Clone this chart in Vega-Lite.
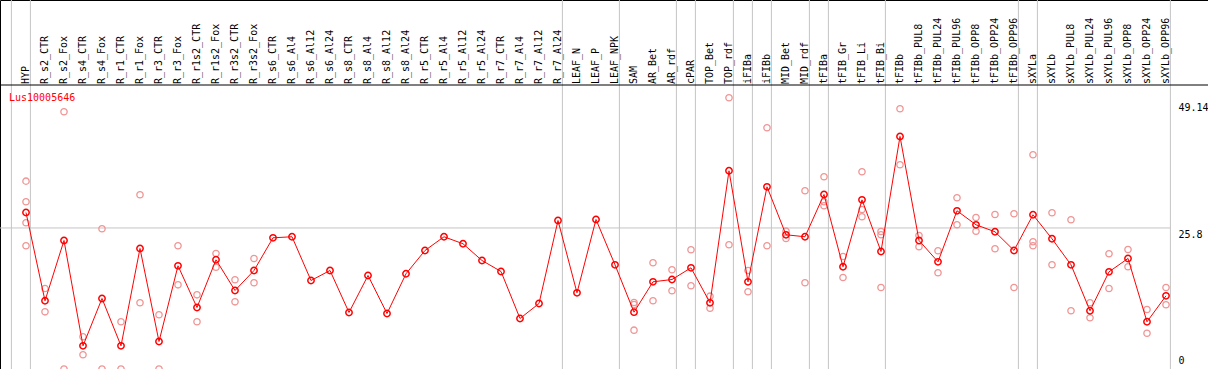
{
  "$schema": "https://vega.github.io/schema/vega-lite/v6.json",
  "width": 1208,
  "height": 369,
  "autosize": "none",
  "padding": 0,
  "background": "white",
  "config": {"view": {"stroke": "#000000", "strokeWidth": 1}},
  "title": {"text": "Lus10005646", "anchor": "start", "frame": "group", "orient": "top", "offset": 0, "color": "#ff0000", "font": "DejaVu Sans Mono", "fontSize": 10, "fontWeight": "normal", "baseline": "middle", "dx": 9, "dy": 108},
  "datasets": {
    "means": [
      {"i": 0, "name": "HYP", "v": 28.63},
      {"i": 1, "name": "R_s2_CTR", "v": 12.48},
      {"i": 2, "name": "R_s2_Fox", "v": 23.51},
      {"i": 3, "name": "R_s4_CTR", "v": 4.24},
      {"i": 4, "name": "R_s4_Fox", "v": 12.90},
      {"i": 5, "name": "R_r1_CTR", "v": 4.24},
      {"i": 6, "name": "R_r1_Fox", "v": 22.05},
      {"i": 7, "name": "R_r3_CTR", "v": 5.03},
      {"i": 8, "name": "R_r3_Fox", "v": 18.88},
      {"i": 9, "name": "R_r1s2_CTR", "v": 11.25},
      {"i": 10, "name": "R_r1s2_Fox", "v": 19.98},
      {"i": 11, "name": "R_r3s2_CTR", "v": 14.36},
      {"i": 12, "name": "R_r3s2_Fox", "v": 18.02},
      {"i": 13, "name": "R_s6_CTR", "v": 24.00},
      {"i": 14, "name": "R_s6_Al4", "v": 24.19},
      {"i": 15, "name": "R_s6_Al12", "v": 16.19},
      {"i": 16, "name": "R_s6_Al24", "v": 18.02},
      {"i": 17, "name": "R_s8_CTR", "v": 10.34},
      {"i": 18, "name": "R_s8_Al4", "v": 17.11},
      {"i": 19, "name": "R_s8_Al12", "v": 10.15},
      {"i": 20, "name": "R_s8_Al24", "v": 17.42},
      {"i": 21, "name": "R_r5_CTR", "v": 21.68},
      {"i": 22, "name": "R_r5_Al4", "v": 24.19},
      {"i": 23, "name": "R_r5_Al12", "v": 22.91},
      {"i": 24, "name": "R_r5_Al24", "v": 19.85},
      {"i": 25, "name": "R_r7_CTR", "v": 17.84},
      {"i": 26, "name": "R_r7_Al4", "v": 9.24},
      {"i": 27, "name": "R_r7_Al12", "v": 11.98},
      {"i": 28, "name": "R_r7_Al24", "v": 27.17},
      {"i": 29, "name": "LEAF_N", "v": 13.94},
      {"i": 30, "name": "LEAF_P", "v": 27.35},
      {"i": 31, "name": "LEAF_NPK", "v": 19.06},
      {"i": 32, "name": "SAM", "v": 10.39},
      {"i": 33, "name": "AR_Bet", "v": 15.95},
      {"i": 34, "name": "AR_rdf", "v": 16.37},
      {"i": 35, "name": "cPAR", "v": 18.51},
      {"i": 36, "name": "TOP_Bet", "v": 12.11},
      {"i": 37, "name": "TOP_rdf", "v": 36.26},
      {"i": 38, "name": "iFIBa", "v": 15.95},
      {"i": 39, "name": "iFIBb", "v": 33.33},
      {"i": 40, "name": "MID_Bet", "v": 24.55},
      {"i": 41, "name": "MID_rdf", "v": 24.19},
      {"i": 42, "name": "tFIBa", "v": 31.92},
      {"i": 43, "name": "tFIB_Gr", "v": 18.70},
      {"i": 44, "name": "tFIB_Li", "v": 30.95},
      {"i": 45, "name": "tFIB_Bi", "v": 21.50},
      {"i": 46, "name": "tFIBb", "v": 42.54},
      {"i": 47, "name": "tFIBb_PUL8", "v": 23.51},
      {"i": 48, "name": "tFIBb_PUL24", "v": 19.61},
      {"i": 49, "name": "tFIBb_PUL96", "v": 28.94},
      {"i": 50, "name": "tFIBb_OPP8", "v": 26.38},
      {"i": 51, "name": "tFIBb_OPP24", "v": 25.10},
      {"i": 52, "name": "tFIBb_OPP96", "v": 21.68},
      {"i": 53, "name": "sXYLa", "v": 28.21},
      {"i": 54, "name": "sXYLb", "v": 23.82},
      {"i": 55, "name": "sXYLb_PUL8", "v": 19.06},
      {"i": 56, "name": "sXYLb_PUL24", "v": 10.65},
      {"i": 57, "name": "sXYLb_PUL96", "v": 17.78},
      {"i": 58, "name": "sXYLb_OPP8", "v": 20.22},
      {"i": 59, "name": "sXYLb_OPP24", "v": 8.64},
      {"i": 60, "name": "sXYLb_OPP96", "v": 13.39}
    ],
    "reps": [
      {"i": 0, "v": 34.36}, {"i": 0, "v": 30.59}, {"i": 0, "v": 26.75}, {"i": 0, "v": 22.54},
      {"i": 1, "v": 14.73}, {"i": 1, "v": 10.46},
      {"i": 2, "v": 47.05}, {"i": 2, "v": 0},
      {"i": 3, "v": 5.89}, {"i": 3, "v": 2.60},
      {"i": 4, "v": 25.65}, {"i": 4, "v": 0},
      {"i": 5, "v": 8.64}, {"i": 5, "v": 0},
      {"i": 6, "v": 31.87}, {"i": 6, "v": 12.11},
      {"i": 7, "v": 9.92}, {"i": 7, "v": 0},
      {"i": 8, "v": 22.54}, {"i": 8, "v": 15.40},
      {"i": 9, "v": 13.57}, {"i": 9, "v": 8.64},
      {"i": 10, "v": 21.13}, {"i": 10, "v": 18.62},
      {"i": 11, "v": 16.32}, {"i": 11, "v": 12.29},
      {"i": 12, "v": 20.22}, {"i": 12, "v": 15.77},
      {"i": 32, "v": 12.17}, {"i": 32, "v": 11.80}, {"i": 32, "v": 7.10},
      {"i": 33, "v": 19.43}, {"i": 33, "v": 12.48},
      {"i": 34, "v": 18.15}, {"i": 34, "v": 14.31},
      {"i": 35, "v": 21.81}, {"i": 35, "v": 15.22},
      {"i": 36, "v": 13.32}, {"i": 36, "v": 11.12},
      {"i": 37, "v": 49.62}, {"i": 37, "v": 22.72},
      {"i": 38, "v": 18.02}, {"i": 38, "v": 14.12},
      {"i": 39, "v": 44.13}, {"i": 39, "v": 22.54},
      {"i": 40, "v": 25.21}, {"i": 40, "v": 23.87},
      {"i": 41, "v": 32.60}, {"i": 41, "v": 15.77},
      {"i": 42, "v": 35.16}, {"i": 42, "v": 30.59}, {"i": 42, "v": 29.86},
      {"i": 43, "v": 20.58}, {"i": 43, "v": 16.74},
      {"i": 44, "v": 36.08}, {"i": 44, "v": 29.18}, {"i": 44, "v": 27.85},
      {"i": 45, "v": 25.16}, {"i": 45, "v": 24.55}, {"i": 45, "v": 14.91},
      {"i": 46, "v": 47.60}, {"i": 46, "v": 37.36},
      {"i": 47, "v": 24.42}, {"i": 47, "v": 22.36},
      {"i": 48, "v": 21.62}, {"i": 48, "v": 17.60},
      {"i": 49, "v": 31.32}, {"i": 49, "v": 26.38},
      {"i": 50, "v": 27.72}, {"i": 50, "v": 25.21},
      {"i": 51, "v": 28.27}, {"i": 51, "v": 21.99},
      {"i": 52, "v": 28.39}, {"i": 52, "v": 14.91},
      {"i": 53, "v": 39.19}, {"i": 53, "v": 23.27}, {"i": 53, "v": 22.54},
      {"i": 54, "v": 28.58}, {"i": 54, "v": 19.06},
      {"i": 55, "v": 27.30}, {"i": 55, "v": 10.65},
      {"i": 56, "v": 12.11}, {"i": 56, "v": 9.37},
      {"i": 57, "v": 21.08}, {"i": 57, "v": 14.73},
      {"i": 58, "v": 21.86}, {"i": 58, "v": 18.70},
      {"i": 59, "v": 10.89}, {"i": 59, "v": 6.55},
      {"i": 60, "v": 14.91}, {"i": 60, "v": 11.75}
    ],
    "separators": [
      {"after": -1}, {"after": 0}, {"after": 28}, {"after": 31}, {"after": 34},
      {"after": 35}, {"after": 37}, {"after": 38}, {"after": 39}, {"after": 41},
      {"after": 42}, {"after": 45}, {"after": 52}, {"after": 53}, {"after": 60}
    ]
  },
  "layer": [
    {
      "data": {"name": "separators"},
      "mark": {"type": "rule", "color": "#c4c4c4", "strokeWidth": 1, "xOffset": 4.4},
      "encoding": {
        "x": {"field": "after", "type": "quantitative", "scale": {"domain": [-1.3684, 62.2105], "nice": false, "zero": false}, "axis": null}
      }
    },
    {
      "data": {"name": "means"},
      "transform": [{"filter": "datum.i == 0"}],
      "mark": {"type": "rule", "color": "#c4c4c4", "strokeWidth": 1},
      "encoding": {
        "y": {"datum": 25.8, "type": "quantitative"},
        "x": {"datum": -1.3684, "type": "quantitative"},
        "x2": {"datum": 60.2316}
      }
    },
    {
      "data": {"name": "means"},
      "transform": [{"filter": "datum.i == 0"}],
      "mark": {"type": "rule", "color": "#000000", "strokeWidth": 1},
      "encoding": {
        "y": {"datum": 51.95, "type": "quantitative"}
      }
    },
    {
      "data": {"name": "means"},
      "mark": {"type": "text", "angle": 270, "align": "left", "baseline": "middle", "font": "DejaVu Sans Mono", "fontSize": 10, "color": "#000000"},
      "encoding": {
        "x": {"field": "i", "type": "quantitative"},
        "y": {"datum": 52.13, "type": "quantitative"},
        "text": {"field": "name"}
      }
    },
    {
      "data": {"name": "reps"},
      "mark": {"type": "point", "shape": "circle", "filled": false, "color": "#f09494", "strokeWidth": 1.3, "size": 40, "opacity": 1},
      "encoding": {
        "x": {"field": "i", "type": "quantitative"},
        "y": {"field": "v", "type": "quantitative"}
      }
    },
    {
      "data": {"name": "means"},
      "mark": {"type": "line", "color": "#ff0000", "strokeWidth": 1},
      "encoding": {
        "x": {"field": "i", "type": "quantitative"},
        "y": {"field": "v", "type": "quantitative"}
      }
    },
    {
      "data": {"name": "means"},
      "mark": {"type": "point", "shape": "circle", "filled": false, "color": "#ff0000", "strokeWidth": 1.5, "size": 40, "opacity": 1},
      "encoding": {
        "x": {"field": "i", "type": "quantitative"},
        "y": {"field": "v", "type": "quantitative", "scale": {"domain": [0, 67.5], "nice": false, "zero": false},
          "axis": {"orient": "right", "offset": -30, "values": [0, 25.8, 49.14], "labelExpr": "'' + datum.value", "ticks": false, "domain": false, "grid": false, "labelPadding": 0, "labelAlign": "left", "labelFont": "DejaVu Sans Mono", "labelFontSize": 10, "labelColor": "#000000", "title": null, "labelBound": false, "labelOverlap": false,
            "labelBaseline": {"condition": {"test": "datum.value == 0", "value": "bottom"}, "value": "top"},
            "labelOffset": {"condition": {"test": "datum.value == 0", "value": -4}, "value": 2}}
        }
      }
    }
  ]
}
